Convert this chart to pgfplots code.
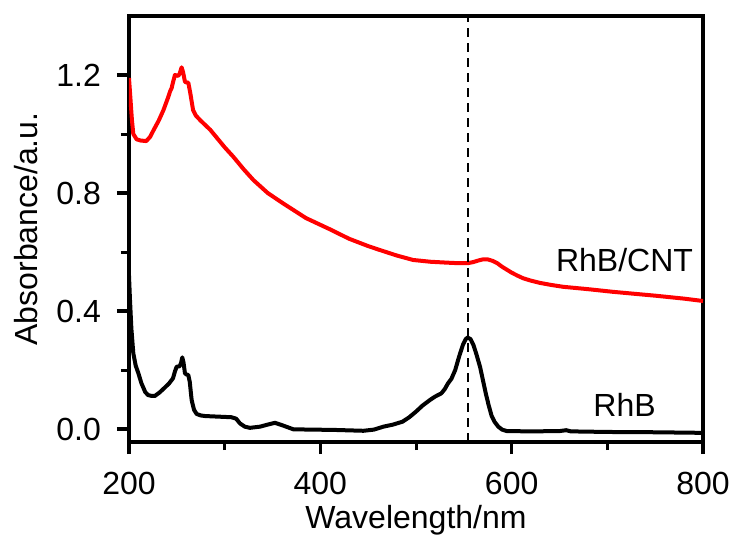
\documentclass[border=0pt]{standalone}
\usepackage{fontspec}
\setmainfont{Liberation Sans}
\usepackage{pgfplots}
\pgfplotsset{compat=1.18}
\usetikzlibrary{calc}
\newcommand\bigf{\fontsize{32bp}{38bp}\selectfont}
\pgfplotsset{
    major tick length=12bp, minor tick length=8bp,
    every tick/.style={black, line width=3.5bp},
    every minor tick/.style={black, line width=3bp},
}

\begin{document}
\begin{tikzpicture}
\begin{axis}[
    width=574bp, height=426bp, scale only axis=true,
    xmin=200, xmax=800, ymin=-0.044, ymax=1.4,
    xtick={200,400,600,800}, ytick={0,0.4,0.8,1.2},
    minor x tick num=1, minor y tick num=1,
    xtick pos=bottom, ytick pos=left, tick align=outside,
    major tick length=12bp, minor tick length=8bp,
    axis line style={line width=4bp},
    font=\bigf,
    tick label style={font=\bigf},
    /pgf/number format/assume math mode=true,
    yticklabel style={anchor=east, inner sep=0pt, xshift=-16bp, /pgf/number format/fixed, /pgf/number format/fixed zerofill, /pgf/number format/precision=1},
    xticklabel style={anchor=north, inner sep=0pt, yshift=-18bp},
    xlabel={Wavelength/nm}, ylabel={Absorbance/a.u.},
    xlabel style={font=\bigf, at={(axis description cs:0.5,0)}, anchor=base, yshift=-86bp},
    ylabel style={font=\bigf, at={(axis description cs:0,0.5)}, anchor=base, yshift=91bp},
]
% RhB/CNT
\addplot[red, line width=4bp, line join=round] coordinates {
(200,1.19)(201.5,1.12)(203,1.05)(204.5,1.0)(208,0.982)(212,0.978)(218,0.976)(222,0.99)
(226,1.015)(231,1.045)(236,1.081)(241,1.125)(243,1.145)(244.5,1.155)(246,1.175)(248,1.2)
(251.5,1.197)(253,1.205)(255,1.226)(256.5,1.21)(258.5,1.177)(260,1.175)(262,1.174)(264,1.14)
(267,1.081)(270,1.062)(275,1.045)(285,1.014)(300,0.955)(309,0.923)(320,0.88)(330,0.844)
(345,0.8)(361,0.765)(385,0.715)(410,0.677)(430,0.645)(450,0.62)(462,0.607)(480,0.588)
(497,0.573)(515,0.567)(532,0.564)(545,0.562)(554,0.562)(560,0.566)(565,0.571)(570,0.575)
(575,0.575)(580,0.57)(585,0.562)(590,0.55)(595,0.54)(600,0.53)(606,0.52)(612,0.511)
(620,0.503)(630,0.495)(642,0.488)(654,0.482)(680,0.474)(706,0.465)(750,0.452)(780,0.442)(800,0.434)
};
% RhB
\addplot[black, line width=4bp, line join=round] coordinates {
(200,0.52)(201,0.44)(202.5,0.34)(204.5,0.257)(207,0.215)(209.7,0.19)(213,0.155)(217,0.125)
(220,0.115)(224,0.112)(227,0.112)(232,0.124)(237.6,0.141)(242,0.155)(246,0.172)(248,0.195)
(249.8,0.211)(253,0.213)(254.5,0.225)(255.7,0.243)(257,0.225)(258.5,0.189)(260,0.185)(262,0.183)
(263.5,0.16)(265.5,0.098)(268,0.065)(270.7,0.051)(275,0.046)(279.4,0.044)(293,0.042)(307,0.04)
(312,0.035)(316,0.019)(321,0.008)(326.4,0.004)(337,0.008)(345,0.015)(352.6,0.021)(360,0.013)
(371.8,-0.001)(390,-0.002)(413.6,-0.003)(445,-0.006)(456,-0.002)(466,0.008)(476,0.015)(486,0.025)
(493,0.04)(500,0.059)(507,0.08)(514.4,0.098)(520,0.11)(526.5,0.121)(530,0.135)(533.5,0.155)
(537,0.17)(541,0.2)(545,0.245)(549,0.285)(552,0.305)(554,0.31)(557,0.305)(560,0.285)
(563,0.255)(567,0.21)(570,0.165)(573,0.12)(576,0.08)(579,0.045)(582,0.025)(586,0.008)
(590,-0.002)(595,-0.007)(620,-0.008)(650,-0.007)(657,-0.004)(662,-0.008)(700,-0.01)(750,-0.011)(800,-0.013)
};
% marker line at the RhB peak
\addplot[black, line width=2bp, dash pattern=on 9bp off 6bp] coordinates {(554,-0.044) (554,1.4)};
\node[font=\bigf] at (axis cs:718,0.573) {RhB/CNT};
\node[font=\bigf] at (axis cs:718,0.081) {RhB};
\end{axis}
\path[use as bounding box] ($(current axis.south west)+(-129bp,-89bp)$) rectangle ($(current axis.north east)+(31bp,16bp)$);
\end{tikzpicture}
\end{document}
